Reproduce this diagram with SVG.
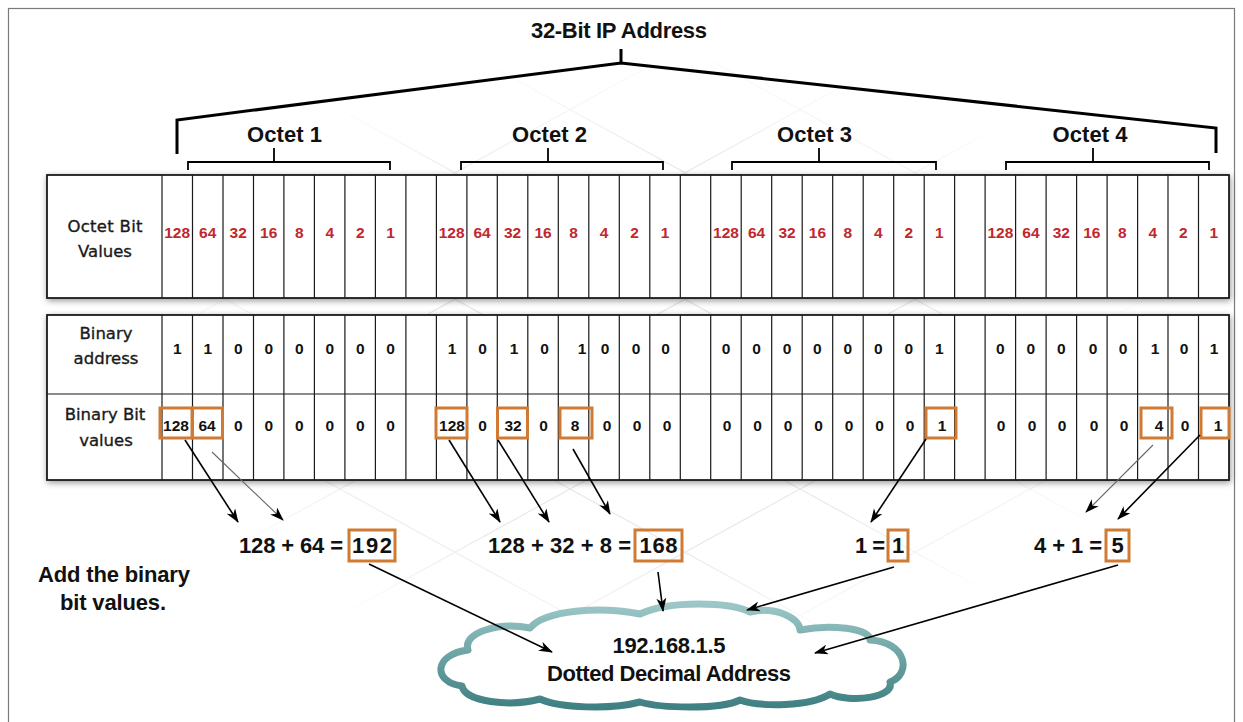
<svg xmlns="http://www.w3.org/2000/svg" width="1243" height="722" viewBox="0 0 1243 722">
<defs>
<style>
.red{font:bold 15.5px "Liberation Sans",Arial,sans-serif;fill:#c1272d;text-anchor:middle}
.num{font:bold 15.5px "Liberation Sans",Arial,sans-serif;fill:#111;text-anchor:middle}
.lbl{font:16.5px "DejaVu Sans","Liberation Sans",sans-serif;fill:#1a1a1a;stroke:#1a1a1a;stroke-width:0.35;text-anchor:middle}
.big{font:bold 22px "Liberation Sans",Arial,sans-serif;fill:#111}
.mid{text-anchor:middle}
.ob{fill:none;stroke:#d07a33;stroke-width:3}
.grid{fill:none;stroke:#1a1a1a;stroke-width:1.2}
.panel{fill:#fff;stroke:#1a1a1a;stroke-width:1.8}
.br{fill:none;stroke:#000;stroke-linejoin:miter}
.ar{fill:none;stroke:#000;stroke-width:1.6;marker-end:url(#ah)}
.ar2{fill:none;stroke:#666;stroke-width:1.1;marker-end:url(#ah)}
.bgl{stroke:#e4e4e4;stroke-width:1.2}
</style>
<marker id="ah" markerUnits="userSpaceOnUse" markerWidth="14" markerHeight="10" refX="13" refY="5" orient="auto">
<path d="M0,0 L14,5 L0,10 L4,5 Z" fill="#000"/>
</marker>
<filter id="sh" x="-5%" y="-20%" width="110%" height="140%">
<feGaussianBlur in="SourceAlpha" stdDeviation="3"/>
<feOffset dx="1" dy="2" result="b"/>
<feFlood flood-color="#000" flood-opacity="0.4"/>
<feComposite in2="b" operator="in"/>
<feMerge><feMergeNode/><feMergeNode in="SourceGraphic"/></feMerge>
</filter>
<linearGradient id="cg" x1="0" y1="0" x2="0" y2="1">
<stop offset="0" stop-color="#9cc7c7"/>
<stop offset="1" stop-color="#3f8082"/>
</linearGradient>
<radialGradient id="fade" cx="0.5" cy="0.5" r="0.5">
<stop offset="0" stop-color="#fff" stop-opacity="1"/>
<stop offset="0.6" stop-color="#fff" stop-opacity="0.8"/>
<stop offset="1" stop-color="#fff" stop-opacity="0"/>
</radialGradient>
<mask id="bgmask" maskUnits="userSpaceOnUse" x="0" y="0" width="1243" height="722">
<rect x="120" y="40" width="1060" height="640" fill="url(#fade)"/>
</mask>
</defs>

<rect x="0" y="0" width="1243" height="722" fill="#fff"/>
<rect id="frame" x="8.5" y="8.5" width="1226" height="730" fill="#fff" stroke="#7a7a7a" stroke-width="1.2"/>

<g id="background" mask="url(#bgmask)">
<path class="bgl" d="M-900,60L200,665M-670,60L430,665M-440,60L660,665M-210,60L890,665M20,60L1120,665M250,60L1350,665M480,60L1580,665M710,60L1810,665M940,60L2040,665M200,60L-900,665M430,60L-670,665M660,60L-440,665M890,60L-210,665M1120,60L20,665M1350,60L250,665M1580,60L480,665M1810,60L710,665M2040,60L940,665"/>
</g>

<g id="title"><text class="big mid" x="619" y="38" font-size="21" textLength="176">32-Bit IP Address</text></g>
<g id="octet1-label"><text class="big mid" x="284.5" y="142" textLength="75">Octet 1</text></g>
<g id="octet2-label"><text class="big mid" x="549.5" y="142" textLength="75">Octet 2</text></g>
<g id="octet3-label"><text class="big mid" x="814.5" y="142" textLength="75">Octet 3</text></g>
<g id="octet4-label"><text class="big mid" x="1090" y="142" textLength="75">Octet 4</text></g>

<g id="bit-values-panel">
<rect class="panel" x="47" y="175" width="1182" height="123" filter="url(#sh)"/>
<path class="grid" d="M162,175V298M192.5,175V298M223,175V298M253.5,175V298M283.9,175V298M314.4,175V298M344.9,175V298M375.4,175V298M405.9,175V298M436.4,175V298M466.9,175V298M497.3,175V298M527.8,175V298M558.3,175V298M588.8,175V298M619.3,175V298M649.8,175V298M680.3,175V298M710.7,175V298M741.2,175V298M771.7,175V298M802.2,175V298M832.7,175V298M863.2,175V298M893.7,175V298M924.2,175V298M954.6,175V298M985.1,175V298M1015.6,175V298M1046.1,175V298M1076.6,175V298M1107.1,175V298M1137.6,175V298M1168,175V298M1198.5,175V298"/>
<text class="lbl" x="105" y="232" textLength="75">Octet Bit</text>
<text class="lbl" x="105" y="257">Values</text>
<g class="red">
<text x="177.2" y="238">128</text><text x="207.7" y="238">64</text><text x="238.2" y="238">32</text><text x="268.7" y="238">16</text><text x="299.2" y="238">8</text><text x="329.7" y="238">4</text><text x="360.2" y="238">2</text><text x="390.6" y="238">1</text>
<text x="451.6" y="238">128</text><text x="482.1" y="238">64</text><text x="512.6" y="238">32</text><text x="543.1" y="238">16</text><text x="573.6" y="238">8</text><text x="604" y="238">4</text><text x="634.5" y="238">2</text><text x="665" y="238">1</text>
<text x="726" y="238">128</text><text x="756.5" y="238">64</text><text x="787" y="238">32</text><text x="817.4" y="238">16</text><text x="847.9" y="238">8</text><text x="878.4" y="238">4</text><text x="908.9" y="238">2</text><text x="939.4" y="238">1</text>
<text x="1000.4" y="238">128</text><text x="1030.9" y="238">64</text><text x="1061.3" y="238">32</text><text x="1091.8" y="238">16</text><text x="1122.3" y="238">8</text><text x="1152.8" y="238">4</text><text x="1183.3" y="238">2</text><text x="1213.8" y="238">1</text>
</g>
</g>

<g id="binary-panel">
<rect class="panel" x="47" y="315" width="1182" height="165" filter="url(#sh)"/>
<path class="grid" d="M47,394H1229M162,315V480M192.5,315V480M223,315V480M253.5,315V480M283.9,315V480M314.4,315V480M344.9,315V480M375.4,315V480M405.9,315V480M436.4,315V480M466.9,315V480M497.3,315V480M527.8,315V480M558.3,315V480M588.8,315V480M619.3,315V480M649.8,315V480M680.3,315V480M710.7,315V480M741.2,315V480M771.7,315V480M802.2,315V480M832.7,315V480M863.2,315V480M893.7,315V480M924.2,315V480M954.6,315V480M985.1,315V480M1015.6,315V480M1046.1,315V480M1076.6,315V480M1107.1,315V480M1137.6,315V480M1168,315V480M1198.5,315V480"/>
<text class="lbl" x="106" y="339">Binary</text>
<text class="lbl" x="106" y="364">address</text>
<text class="lbl" x="105" y="420">Binary Bit</text>
<text class="lbl" x="106" y="446">values</text>
<g class="num">
<text x="177.2" y="354">1</text><text x="207.7" y="354">1</text><text x="238.2" y="354">0</text><text x="268.7" y="354">0</text><text x="299.2" y="354">0</text><text x="329.7" y="354">0</text><text x="360.2" y="354">0</text><text x="390.6" y="354">0</text>
<text x="452" y="354">1</text><text x="482.5" y="354">0</text><text x="514" y="354">1</text><text x="544.5" y="354">0</text><text x="582" y="354">1</text><text x="605" y="354">0</text><text x="636" y="354">0</text><text x="665.5" y="354">0</text>
<text x="726" y="354">0</text><text x="756.5" y="354">0</text><text x="787" y="354">0</text><text x="817.4" y="354">0</text><text x="847.9" y="354">0</text><text x="878.4" y="354">0</text><text x="908.9" y="354">0</text><text x="939.4" y="354">1</text>
<text x="1000.4" y="354">0</text><text x="1030.9" y="354">0</text><text x="1061.3" y="354">0</text><text x="1093" y="354">0</text><text x="1123" y="354">0</text><text x="1155" y="354">1</text><text x="1184" y="354">0</text><text x="1214" y="354">1</text>
<text x="176" y="431">128</text><text x="207" y="431">64</text><text x="238.2" y="431">0</text><text x="268.7" y="431">0</text><text x="299.2" y="431">0</text><text x="329.7" y="431">0</text><text x="360.2" y="431">0</text><text x="390.6" y="431">0</text>
<text x="452" y="431">128</text><text x="482.5" y="431">0</text><text x="513" y="431">32</text><text x="543.5" y="431">0</text><text x="575" y="431">8</text><text x="607" y="431">0</text><text x="637" y="431">0</text><text x="667" y="431">0</text>
<text x="727" y="431">0</text><text x="757.5" y="431">0</text><text x="788" y="431">0</text><text x="818.5" y="431">0</text><text x="849" y="431">0</text><text x="879.5" y="431">0</text><text x="910" y="431">0</text><text x="942" y="431">1</text>
<text x="1001" y="431">0</text><text x="1032" y="431">0</text><text x="1062" y="431">0</text><text x="1094" y="431">0</text><text x="1124" y="431">0</text><text x="1159" y="431">4</text><text x="1185" y="431">0</text><text x="1218" y="431">1</text>
</g>
<rect class="ob" x="160" y="408" width="32" height="30"/>
<rect class="ob" x="192.5" y="408" width="30" height="30"/>
<rect class="ob" x="436" y="408" width="31" height="30"/>
<rect class="ob" x="497.5" y="408" width="30" height="30"/>
<rect class="ob" x="560" y="408" width="32" height="30"/>
<rect class="ob" x="926" y="408" width="30" height="30"/>
<rect class="ob" x="1141" y="408" width="31" height="30"/>
<rect class="ob" x="1201" y="408" width="28" height="30"/>
</g>

<g id="sum-octet1">
<text class="big" x="239" y="553" textLength="104">128 + 64 =</text>
<rect class="ob" x="349" y="530" width="46" height="31"/>
<text class="big mid" x="372" y="553" textLength="40">192</text>
</g>
<g id="sum-octet2">
<text class="big" x="488" y="553" textLength="143">128 + 32 + 8 =</text>
<rect class="ob" x="635" y="530" width="47" height="31"/>
<text class="big mid" x="658.5" y="553" textLength="38">168</text>
</g>
<g id="sum-octet3">
<text class="big" x="855" y="553" textLength="30">1 =</text>
<rect class="ob" x="888" y="530" width="20" height="31"/>
<text class="big mid" x="898" y="553">1</text>
</g>
<g id="sum-octet4">
<text class="big" x="1034" y="553" textLength="68">4 + 1 =</text>
<rect class="ob" x="1106" y="530" width="23" height="31"/>
<text class="big mid" x="1117.5" y="553">5</text>
</g>

<g id="note">
<text class="big mid" x="114" y="582" font-size="21.5" textLength="152">Add the binary</text>
<text class="big mid" x="113" y="610" font-size="21.5" textLength="106">bit values.</text>
</g>

<g id="cloud">
<path d="M462,686 C432,682 434,654 468,650 C462,632 500,622 530,628 C545,610 600,606 640,614 C670,600 730,602 750,612 C775,606 800,618 800,630 C830,624 870,628 870,640 C907,642 912,674 890,682 C895,698 850,703 830,694 C810,707 760,707 740,700 C720,710 660,708 640,702 C610,710 560,708 540,699 C510,707 465,702 462,686 Z" fill="#fff" stroke="url(#cg)" stroke-width="7" stroke-linejoin="round"/>
<text class="big mid" x="669" y="653" font-size="20.5" textLength="113">192.168.1.5</text>
<text class="big mid" x="669" y="681" font-size="20.5" textLength="244">Dotted Decimal Address</text>
</g>

<g id="connectors">
<path class="br" stroke-width="3" d="M177,154 L177,120 L621,63 L1216,128 L1216,153 M621,63 L621,49"/>
<path class="br" stroke-width="1.8" d="M188,170V162H390V170M274,162V148M461,170V162H663V170M548,162V148M732,170V162H936V170M819,162V148M1006,170V162H1209V170M1093,162V148"/>
<path class="ar" d="M185,440 L238,522"/>
<path class="ar2" d="M212,452 L283,520"/>
<path class="ar" d="M449,440 L500,522"/>
<path class="ar" d="M498,440 L549,522"/>
<path class="ar" d="M573,449 L610,514"/>
<path class="ar" d="M926,439 L871,522"/>
<path class="ar2" d="M1153,445 L1086,512"/>
<path class="ar" d="M1200,435 L1118,519"/>
<path class="ar" d="M369,564 L552,652"/>
<path class="ar" d="M658,572 L663,611"/>
<path class="ar" d="M894,567 L747,610"/>
<path class="ar" d="M1118,565 L815,653"/>
</g>
</svg>
